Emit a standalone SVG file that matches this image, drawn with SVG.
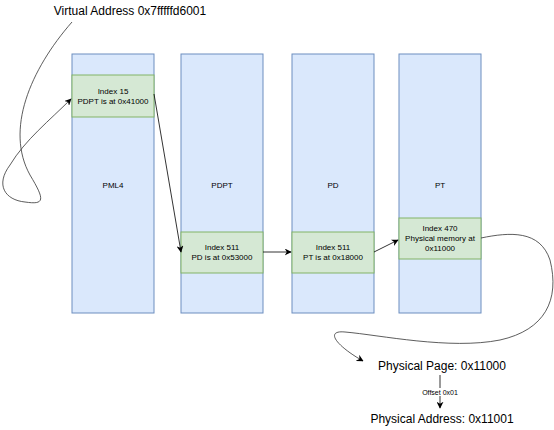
<svg xmlns="http://www.w3.org/2000/svg" width="554" height="430" viewBox="0 0 554 430">
<defs>
<marker id="arr" viewBox="0 0 10 10" refX="9" refY="5" markerWidth="7" markerHeight="7" markerUnits="userSpaceOnUse" orient="auto">
<path d="M0,0 L10,5 L0,10 L3,5 Z" fill="#000"/>
</marker>
</defs>
<style>
.col{fill:#dae8fc;stroke:#6c8ebf;stroke-width:1}
.cell{fill:#d5e8d4;stroke:#82b366;stroke-width:1}
.t{font-family:"Liberation Sans",Arial,sans-serif;font-size:8px;fill:#000;text-anchor:middle}
.big{font-family:"Liberation Sans",Arial,sans-serif;font-size:12px;fill:#000;text-anchor:middle}
.e{fill:none;stroke:#000;stroke-width:0.8}
.c{fill:none;stroke:#333;stroke-width:0.8}
</style>
<rect width="554" height="430" fill="#fff"/>
<g id="title"><text class="big" x="130" y="15">Virtual Address 0x7fffffd6001</text></g>
<g id="pml4">
<rect class="col" x="72" y="54" width="82" height="259"/>
<text class="t" x="113" y="188">PML4</text>
</g>
<g id="pml4-entry">
<rect class="cell" x="72" y="75" width="82" height="42"/>
<text class="t" x="113" y="94">Index 15</text>
<text class="t" x="113" y="104">PDPT is at 0x41000</text>
</g>
<g id="pdpt">
<rect class="col" x="181" y="54" width="82" height="259"/>
<text class="t" x="222" y="188">PDPT</text>
</g>
<g id="pdpt-entry">
<rect class="cell" x="181" y="232" width="82" height="41"/>
<text class="t" x="222" y="250">Index 511</text>
<text class="t" x="222" y="260">PD is at 0x53000</text>
</g>
<g id="pd">
<rect class="col" x="292" y="54" width="82" height="259"/>
<text class="t" x="333" y="188">PD</text>
</g>
<g id="pd-entry">
<rect class="cell" x="292" y="232" width="82" height="41"/>
<text class="t" x="333" y="250">Index 511</text>
<text class="t" x="333" y="260">PT is at 0x18000</text>
</g>
<g id="pt">
<rect class="col" x="399" y="54" width="82" height="259"/>
<text class="t" x="440" y="188">PT</text>
</g>
<g id="pt-entry">
<rect class="cell" x="399" y="218" width="82" height="41"/>
<text class="t" x="440" y="231">Index 470</text>
<text class="t" x="440" y="241">Physical memory at</text>
<text class="t" x="440" y="251">0x11000</text>
</g>
<g id="phys-page"><text class="big" x="442" y="370">Physical Page: 0x11000</text></g>
<g id="phys-addr"><text class="big" x="442" y="423">Physical Address: 0x11001</text></g>
<g id="connectors">
<path class="c" d="M72,22 C30,70 5,130 30,175 C45,200 45,205 25,202 C5,200 -5,185 10,165 C25,140 50,120 71,99" marker-end="url(#arr)"/>
<path class="e" d="M154,94 L181,252" marker-end="url(#arr)"/>
<path class="e" d="M263,252 L291,252" marker-end="url(#arr)"/>
<path class="e" d="M374,252 L398,240" marker-end="url(#arr)"/>
<path class="c" d="M481,238 C510,232 540,230 550,260 C560,300 545,330 500,340 C450,350 380,335 345,332 C325,330 335,345 363,361" marker-end="url(#arr)"/>
<path class="e" d="M440,375 L440,408" marker-end="url(#arr)"/>
<rect x="421" y="388" width="38" height="8" fill="#fff"/>
<text x="440" y="394.5" font-family="'Liberation Sans',Arial,sans-serif" font-size="7" text-anchor="middle">Offset 0x01</text>
</g>
</svg>
